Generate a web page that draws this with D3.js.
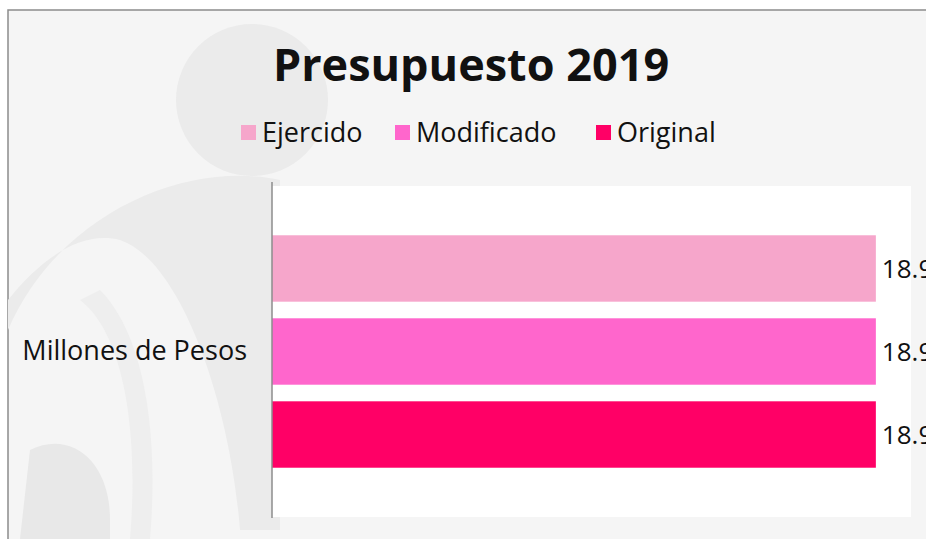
<html>
<script src="https://d3js.org/d3.v7.min.js"></script>
<style>
body { margin: 0; background: #ffffff; }
text { font-family: "Open Sans", "DejaVu Sans", sans-serif; }
</style>
<body>
<svg width="926" height="539"></svg>
<script>
// chart values
const categories = ["Millones de Pesos"];
const series = ["Ejercido", "Modificado", "Original"];
const values = [18.9, 18.9, 18.9];
const colors = ["#F6A6CB", "#FF66CC", "#FF0066"];
const valueLabels = ["18.9", "18.9", "18.9"];

const svg = d3.select("svg");

// background panel with faded shapes
svg.append("rect").attr("x", 8).attr("y", 10).attr("width", 930).attr("height", 540)
  .attr("fill", "#f5f5f5").attr("stroke", "#8c8c8c").attr("stroke-width", 1.5);
const bg = svg.append("g").attr("fill", "#ebebeb");
bg.append("circle").attr("cx", 252).attr("cy", 100).attr("r", 76);
bg.append("path")
  .attr("d", "M8,330 C60,210 190,160 280,180 L280,530 L240,530 C230,400 180,260 120,240 C80,230 40,260 8,300 Z");
bg.append("path")
  .attr("d", "M30,450 C70,430 110,460 110,520 L110,539 L20,539 Z").attr("fill", "#e8e8e8");
bg.append("path")
  .attr("d", "M80,300 C120,330 140,420 130,539 L150,539 C160,420 140,330 100,290 Z").attr("fill", "#eeeeee");

// title
svg.append("text")
  .attr("x", 471).attr("y", 81)
  .attr("text-anchor", "middle")
  .style("font-size", "45px").style("font-weight", "bold")
  .attr("fill", "#111")
  .text("Presupuesto 2019");

// legend
const legendX = [241, 395, 596];
const legend = svg.append("g").selectAll("g")
  .data(series).enter().append("g")
  .attr("transform", (d, i) => "translate(" + legendX[i] + ",125)");
legend.append("rect").attr("width", 15).attr("height", 15).attr("fill", (d, i) => colors[i]);
legend.append("text").attr("x", 21).attr("y", 17)
  .style("font-size", "27px").attr("fill", "#111").text(d => d);

// plot area
const plotL = 272, plotR = 911, plotT = 186, plotB = 517;
svg.append("rect").attr("x", plotL).attr("y", plotT).attr("width", plotR - plotL).attr("height", plotB - plotT)
  .attr("fill", "#ffffff");

const x = d3.scaleLinear().domain([0, 20]).range([plotL, plotR]);
const y = d3.scaleBand().domain(categories).range([plotT, plotB]).paddingInner(0).paddingOuter(0.212);
const ySub = d3.scaleBand().domain(series).range([0, y.bandwidth()]).paddingInner(0.2).paddingOuter(0);

const bars = svg.append("g");
bars.selectAll("rect")
  .data(series).enter().append("rect")
  .attr("x", x(0))
  .attr("y", d => y(categories[0]) + ySub(d))
  .attr("width", (d, i) => x(values[i]) - x(0))
  .attr("height", ySub.bandwidth())
  .attr("fill", (d, i) => colors[i]);

bars.selectAll("text")
  .data(series).enter().append("text")
  .attr("x", (d, i) => x(values[i]) + 6)
  .attr("y", d => y(categories[0]) + ySub(d) + ySub.bandwidth() / 2)
  .attr("dy", "0.35em")
  .style("font-size", "26px").attr("fill", "#111")
  .text((d, i) => valueLabels[i]);

// category axis
const axis = svg.append("g").attr("transform", "translate(" + plotL + ",0)")
  .call(d3.axisLeft(y).tickSize(0).tickPadding(25));
axis.select(".domain").attr("stroke", "#8c8c8c").attr("stroke-width", 1.5)
  .attr("d", "M0," + (plotT - 4) + "V" + (plotB + 1));
axis.selectAll("text").style("font-size", "27px").attr("fill", "#111");
</script>
</body>
</html>
